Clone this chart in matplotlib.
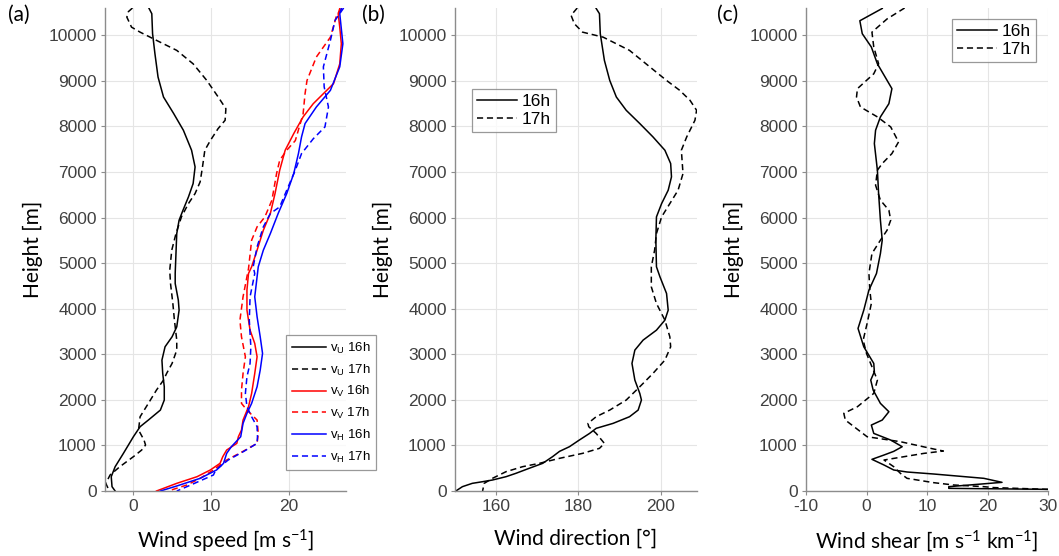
import numpy as np
import matplotlib
matplotlib.use('Agg')
import matplotlib.pyplot as plt

plt.rcParams['font.family'] = ['Liberation Sans', 'DejaVu Sans']
plt.rcParams['axes.unicode_minus'] = False
plt.rcParams['mathtext.fontset'] = 'custom'
plt.rcParams['mathtext.rm'] = 'Liberation Sans'
plt.rcParams['mathtext.it'] = 'Liberation Sans'

# ---- data ----
# (a) wind speed components [m/s] vs height [m]
vu16_h = [10590, 10475, 10036, 9600, 9085, 8647, 8285, 7917, 7478, 7112, 6748, 6454, 6162, 5943,
          5650, 5215, 4775, 4554, 4189, 3969, 3603, 3384, 3165, 2873, 2580, 2288, 1996, 1776, 1557,
          1411, 1191, 826, 533, 314, 95, 0]
vu16 = [2.05, 2.4, 2.5, 2.8, 3.2, 3.9, 5.2, 6.45, 7.5, 7.95, 7.7, 7.1, 6.4, 5.9, 5.6, 5.5, 5.4,
        5.4, 5.8, 5.9, 5.6, 5.0, 4.1, 3.7, 3.8, 4.0, 4.0, 3.5, 1.96, 0.9, 0.04, -1.24, -2.3, -2.8,
        -2.7, -2.3]
vu17_h = [10600, 10520, 10400, 10180, 10070, 9890, 9670, 9375, 9010, 8650, 8390, 8136, 7953, 7690,
          7478, 7112, 6785, 6528, 6308, 6016, 5650, 5285, 4846, 4554, 4115, 3750, 3311, 3092, 2800,
          2580, 2434, 2215, 1923, 1630, 1338, 1118, 1009, 899, 753, 533, 351, 168, 58, 0]
vu17 = [-0.08, -0.6, -0.8, -0.2, 0.9, 3.0, 5.6, 7.7, 9.45, 10.9, 11.9, 11.8, 10.9, 9.9, 9.2, 8.9,
        8.6, 7.95, 7.1, 6.2, 5.5, 4.96, 4.7, 4.8, 5.1, 5.3, 5.6, 5.6, 5.0, 4.3, 3.9, 3.0, 1.96, 0.9,
        0.7, 1.4, 1.6, 1.1, 0.04, -1.7, -2.95, -3.5, -3.2, -3.0]
vv16_h = [10590, 10475, 10180, 9815, 9375, 8940, 8720, 8500, 8210, 7844, 7478, 7040, 6528, 6090,
          5723, 5285, 4920, 4774, 4408, 3969, 3530, 3238, 2946, 2580, 2142, 1850, 1557, 1338, 1191,
          1045, 899, 753, 607, 461, 314, 168, 58, 0]
vv16 = [26.5, 26.3, 26.5, 26.7, 26.5, 25.7, 24.4, 23.1, 21.8, 20.6, 19.5, 18.8, 18.2, 17.6, 16.7,
        15.9, 15.2, 14.8, 14.6, 14.6, 15.0, 15.6, 15.9, 15.6, 15.2, 14.8, 14.1, 13.9, 13.5, 13.3,
        12.0, 11.5, 11.15, 9.9, 8.2, 5.6, 3.9, 3.0]
vv17_h = [10590, 10440, 9960, 9525, 9010, 8720, 8275, 7690, 7478, 7259, 6967, 6382, 6016, 5797,
          5504, 4880, 4262, 3750, 3384, 2946, 2580, 2215, 1923, 1776, 1557, 1264, 1045, 870, 680,
          461, 278, 132, 0]
vv17 = [26.8, 26.1, 25.3, 23.5, 22.3, 22.05, 21.8, 20.8, 19.7, 18.8, 18.4, 17.8, 16.9, 15.9, 15.2,
        14.8, 14.1, 13.7, 13.9, 14.4, 14.1, 13.9, 13.9, 14.6, 15.9, 16.05, 15.9, 14.1, 12.0, 10.3,
        8.6, 6.9, 4.5]
vh16_h = [10590, 10475, 9815, 9310, 8793, 8428, 8064, 7771, 7405, 6967, 6528, 6090, 5650, 5285,
          4920, 4700, 4262, 3823, 3384, 3019, 2654, 2288, 1923, 1704, 1484, 1191, 972, 826, 607,
          461, 278, 110, 0]
vh16 = [26.7, 26.5, 26.9, 26.5, 25.3, 23.5, 22.05, 21.6, 21.2, 20.6, 19.7, 18.6, 17.6, 16.7,
        16.05, 15.9, 15.6, 15.9, 16.3, 16.6, 16.3, 15.9, 15.2, 14.6, 14.1, 13.8, 12.6, 12.0, 11.6,
        10.7, 8.6, 5.6, 3.5]
vh17_h = [10600, 10330, 9890, 9310, 8870, 8428, 7990, 7730, 7405, 7040, 6601, 6235, 6090, 5797,
          5358, 4920, 4774, 4262, 3750, 3165, 2800, 2507, 2142, 1850, 1630, 1411, 1191, 1045, 870,
          680, 461, 351, 95, 0]
vh17 = [27.0, 25.9, 25.3, 24.4, 24.5, 25.05, 24.6, 23.1, 21.6, 20.8, 19.7, 18.8, 17.6, 16.7, 15.9,
        15.4, 15.6, 15.0, 14.9, 15.1, 15.0, 14.6, 14.4, 14.6, 15.2, 15.9, 15.95, 15.9, 14.2, 12.2,
        10.6, 10.3, 6.9, 5.6]

# (b) wind direction [deg]
dir16_h = [10590, 10475, 10036, 9450, 9010, 8647, 8355, 8064, 7771, 7478, 7186, 6894, 6601, 6308,
           6016, 5504, 4920, 4700, 4335, 3969, 3750, 3530, 3311, 3092, 2800, 2434, 2142, 1996,
           1776, 1630, 1484, 1375, 1264, 1118, 972, 870, 753, 607, 497, 388, 314, 241, 204, 168,
           95, 0]
dir16 = [184.3, 185.1, 185.3, 186.3, 187.6, 189.2, 191.6, 194.9, 198.1, 201.0, 202.4, 202.6, 201.8,
         200.2, 198.95, 198.8, 198.95, 199.8, 201.4, 201.8, 201.0, 198.95, 195.7, 193.7, 193.0,
         193.7, 194.9, 195.3, 194.5, 192.4, 188.4, 184.3, 182.7, 180.2, 177.8, 175.4, 173.7, 171.3,
         168.0, 164.8, 162.4, 159.1, 156.7, 154.2, 151.8, 150.2]
dir17_h = [10600, 10440, 10255, 10070, 9960, 9670, 9310, 9010, 8793, 8574, 8355, 8136, 7771, 7478,
           6967, 6601, 6308, 6016, 5650, 5285, 4920, 4481, 4115, 3750, 3384, 3165, 2873, 2580,
           2288, 1996, 1776, 1630, 1484, 1411, 1264, 1045, 936, 826, 717, 607, 533, 424, 278, 168,
           0]
dir17 = [179.7, 178.2, 179.0, 181.0, 186.0, 192.4, 197.3, 201.4, 204.6, 207.1, 208.7, 208.3, 206.3,
         205.0, 205.4, 204.2, 202.2, 200.2, 198.95, 198.5, 197.7, 197.7, 198.95, 201.0, 202.2,
         202.4, 201.0, 198.1, 194.9, 191.6, 187.6, 184.3, 182.3, 182.5, 184.3, 186.3, 185.1, 181.0,
         175.4, 170.5, 166.4, 162.4, 159.1, 157.1, 156.7]

# (c) wind shear [m/s/km]
sh16_h = [10590, 10320, 10036, 9744, 9375, 8830, 8500, 8210, 7917, 7625, 7040, 6528, 5943, 5504,
          5212, 4774, 4408, 3969, 3568, 3165, 2800, 2617, 2434, 2215, 1923, 1740, 1557, 1447, 1264,
          1118, 972, 870, 790, 695, 570, 461, 417, 373, 278, 190, 95, 58, 30, 10]
sh16 = [2.6, -1.1, -0.7, 0.8, 1.8, 4.2, 3.7, 2.3, 1.5, 1.3, 1.8, 2.0, 2.3, 2.6, 2.3, 1.65, 0.4,
        -0.45, -1.4, -0.45, 1.2, 1.3, 0.7, 1.1, 2.3, 3.7, 2.6, 0.8, 1.2, 4.0, 5.9, 4.5, 2.9, 0.9,
        2.9, 4.5, 6.7, 11.1, 19.4, 22.4, 13.6, 13.6, 35, 45]
sh17_h = [10600, 10360, 10070, 9744, 9375, 9156, 8830, 8647, 8428, 8210, 7990, 7661, 7405, 7186,
          7040, 6711, 6382, 6162, 5943, 5723, 5504, 5212, 4774, 4408, 4115, 3677, 3311, 3019, 2727,
          2434, 2142, 1850, 1704, 1557, 1191, 1082, 936, 877, 826, 680, 533, 388, 278, 183, 132,
          95, 75, 36, 10]
sh17 = [6.3, 3.4, 0.9, 1.2, 2.0, 1.2, -1.5, -1.65, -1.0, 1.8, 4.0, 5.3, 4.2, 2.6, 1.8, 1.5, 2.3,
        3.7, 4.0, 3.4, 2.3, 0.9, 0.4, 0.55, 0.8, 0.1, -0.55, 0.0, 0.9, 1.8, 1.2, -1.5, -3.75, -3.5,
        0.1, 5.6, 10.6, 12.7, 9.5, 2.9, 4.5, 5.6, 6.7, 11.1, 14.4, 19.4, 21.0, 29.9, 45]

# ---- style ----
tick_color = '#404040'
label_font = 'Lato'
dash = (4, 2.5)
lw = 1.1

W, H = 1059, 556
fig = plt.figure(figsize=(W / 100, H / 100), dpi=100)


def make_axes(left_px, right_px, xlim, xticks, xlabel):
    top_px, bot_px = 8, 491
    ax = fig.add_axes([left_px / W, 1 - bot_px / H,
                       (right_px - left_px) / W, (bot_px - top_px) / H])
    ax.set_xlim(xlim)
    ax.set_ylim(0, 10600)
    ax.set_xticks(xticks)
    ax.set_yticks(np.arange(0, 10001, 1000))
    ax.grid(True, color='#e5e5e5', linewidth=0.8)
    ax.set_axisbelow(True)
    for s in ['top', 'right']:
        ax.spines[s].set_visible(False)
    for s in ['left', 'bottom']:
        ax.spines[s].set_color('#8c8c8c')
        ax.spines[s].set_linewidth(1.0)
    ax.tick_params(direction='out', length=3, width=0.8, color='#8c8c8c',
                   labelcolor=tick_color, labelsize=12.5, pad=3)
    ax.set_xlabel(xlabel, fontsize=15, family=label_font, labelpad=10)
    ax.set_ylabel('Height [m]', fontsize=15, family=label_font, labelpad=4)
    return ax


def add_legend(ax, x_px, y_px, left_px, size, hl, spacing, pad):
    leg = ax.legend(loc='upper left',
                    bbox_to_anchor=((x_px - left_px) / 242, (491 - y_px) / 483),
                    prop={'size': size}, frameon=True, fancybox=False,
                    edgecolor='#808080', handlelength=hl, labelspacing=spacing,
                    borderpad=pad, handletextpad=0.25, borderaxespad=0)
    leg.get_frame().set_linewidth(0.9)
    return leg


# (a)
ax1 = make_axes(105, 346, (-3.6, 27.3), [0, 10, 20], r'Wind speed [m s$^{\mathregular{-1}}$]')
ax1.plot(vu16, vu16_h, color='k', lw=lw, label=r'v$_{\mathregular{U}}$ 16h')
ax1.plot(vu17, vu17_h, color='k', lw=lw, dashes=dash, label=r'v$_{\mathregular{U}}$ 17h')
ax1.plot(vv16, vv16_h, color='#ff0000', lw=lw, label=r'v$_{\mathregular{V}}$ 16h')
ax1.plot(vv17, vv17_h, color='#ff0000', lw=lw, dashes=dash, label=r'v$_{\mathregular{V}}$ 17h')
ax1.plot(vh16, vh16_h, color='#0000ff', lw=lw, label=r'v$_{\mathregular{H}}$ 16h')
ax1.plot(vh17, vh17_h, color='#0000ff', lw=lw, dashes=dash, label=r'v$_{\mathregular{H}}$ 17h')
add_legend(ax1, 287, 335, 105, 9.5, 2.6, 0.5, 0.45)

# (b)
ax2 = make_axes(455, 697, (150, 208.8), [160, 180, 200], 'Wind direction [°]')
ax2.plot(dir16, dir16_h, color='k', lw=lw, label='16h')
ax2.plot(dir17, dir17_h, color='k', lw=lw, dashes=dash, label='17h')
add_legend(ax2, 472, 89, 455, 12.5, 2.3, 0.15, 0.3)

# (c)
ax3 = make_axes(806, 1048, (-10, 30), [-10, 0, 10, 20, 30],
                r'Wind shear [m s$^{\mathregular{-1}}$ km$^{\mathregular{-1}}$]')
ax3.plot(sh16, sh16_h, color='k', lw=lw, label='16h')
ax3.plot(sh17, sh17_h, color='k', lw=lw, dashes=dash, label='17h')
add_legend(ax3, 952, 19, 806, 12.5, 2.3, 0.15, 0.3)

# panel labels
for x_px, lab in [(8, '(a)'), (362, '(b)'), (717, '(c)')]:
    fig.text(x_px / W, 1 - 5 / H, lab, fontsize=15, family=label_font, va='top', ha='left')

fig.savefig('out.png', dpi=100)
